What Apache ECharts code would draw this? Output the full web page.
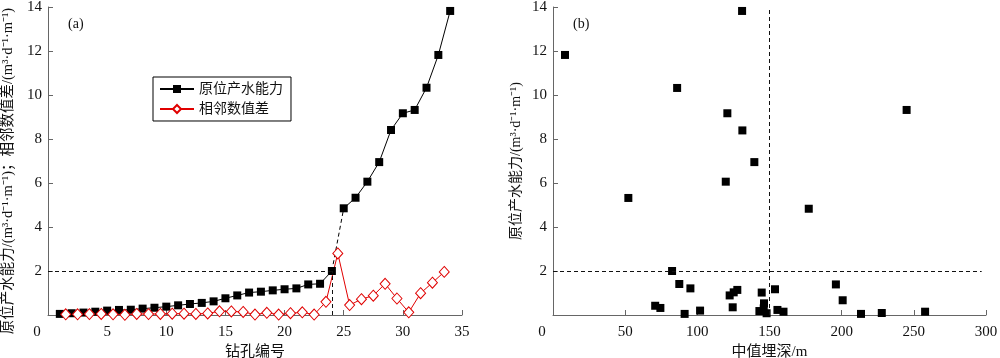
<!DOCTYPE html>
<html><head><meta charset="utf-8">
<script src="https://cdn.jsdelivr.net/npm/echarts@6/dist/echarts.min.js"></script>
<style>html,body{margin:0;padding:0;background:#fff}#c{width:1000px;height:358px}</style>
</head><body><div id="c"></div>
<script>
// ---- data ----
const boreholeIds = [1,2,3,4,5,6,7,8,9,10,11,12,13,14,15,16,17,18,19,20,21,22,23,24,25,26,27,28,29,30,31,32,33,34];
const capacity = [0.05,0.08,0.11,0.15,0.2,0.23,0.24,0.29,0.33,0.38,0.44,0.5,0.55,0.62,0.76,0.89,1.02,1.06,1.12,1.17,1.21,1.39,1.42,2.0,4.85,5.33,6.06,6.95,8.41,9.17,9.32,10.33,11.82,13.82];
const diffPos = [1.5,2.5,3.5,4.5,5.5,6.5,7.5,8.5,9.5,10.5,11.5,12.5,13.5,14.5,15.5,16.5,17.5,18.5,19.5,20.5,21.5,22.5,23.5,24.5,25.5,26.5,27.5,28.5,29.5,30.5,31.5,32.5,33.5];
const diffValues = [0.03,0.03,0.04,0.05,0.03,0.01,0.05,0.04,0.05,0.06,0.06,0.05,0.07,0.17,0.16,0.14,0.02,0.1,0.02,0.08,0.12,0.02,0.6,2.8,0.45,0.72,0.88,1.42,0.75,0.12,0.99,1.47,1.96];
const depth = [8.3,52.2,86,82.5,87.5,70.8,74.4,131,120.8,131.2,139.5,119.7,177.2,245,95.2,91.2,101.9,122.4,125.2,127.7,124.5,144.6,153.8,146.2,143,146,148,155.5,159.7,196,200.7,213.4,227.8,257.8];
const depthCapacity = [11.82,5.32,10.32,2.0,1.41,0.42,0.32,13.82,9.17,8.39,6.95,6.06,4.83,9.32,1.21,0.05,0.2,0.89,1.03,1.14,0.35,1.02,1.17,0.53,0.18,0.3,0.08,0.23,0.15,1.39,0.67,0.05,0.09,0.15];
const threshold = 2;
const breakId = 24;
const medianDepth = 149.5;
const leftXTicks = {min:0, max:35, interval:5};
const rightXTicks = {min:0, max:300, interval:50};
const yTicks = {min:0, max:14, interval:2};
const nameCap = '原位产水能力';
const nameDiff = '相邻数值差';
const unit = '/(m³·d⁻¹·m⁻¹)';

// ---- chart ----
const FF = "'Liberation Serif','Noto Sans CJK SC',serif";
const axisCol = '#666';
const chart = echarts.init(document.getElementById('c'));
const idx = boreholeIds.indexOf(breakId);
const seg1 = boreholeIds.slice(0, idx+1).map((x,i)=>[x, capacity[i]]);
const seg2 = boreholeIds.slice(idx+1).map((x,i)=>[x, capacity[idx+1+i]]);
const bridge = [[boreholeIds[idx], capacity[idx]], [boreholeIds[idx+1], capacity[idx+1]]];
const diffData = diffPos.map((x,i)=>[x, diffValues[i]]);
const scatter = depth.map((d,i)=>[d, depthCapacity[i]]);

function xAxis(gi, t, name){
  return {gridIndex:gi, type:'value', min:t.min, max:t.max, interval:t.interval,
    name:name, nameLocation:'middle', nameGap:27,
    nameTextStyle:{fontFamily:FF, fontSize:15, color:'#111'},
    axisLine:{lineStyle:{color:axisCol, width:1}},
    axisTick:{inside:true, length:5, lineStyle:{color:axisCol}},
    splitLine:{show:false},
    axisLabel:{fontFamily:FF, fontSize:15, color:'#111', margin:10,
      formatter: v => v===0 ? '{z|0}' : String(v),
      rich:{z:{fontFamily:FF, fontSize:15, color:'#111', padding:[0,22,0,0]}}}};
}
function yAxis(gi, name, gap, fs, pad){
  return {gridIndex:gi, type:'value', min:yTicks.min, max:yTicks.max, interval:yTicks.interval,
    name:name, nameLocation:'middle', nameGap:gap, nameRotate:90,
    nameTextStyle:{fontFamily:FF, fontSize:fs, color:'#111', padding:pad},
    axisLine:{show:true, lineStyle:{color:axisCol, width:1}},
    axisTick:{show:true, inside:true, length:5, lineStyle:{color:axisCol}},
    splitLine:{show:false},
    axisLabel:{fontFamily:FF, fontSize:15, color:'#111', margin:6,
      formatter: v => v===0 ? '' : String(v)}};
}
const dash = {type:[4,3], color:'#111', width:1};

chart.setOption({
  animation:false,
  grid:[{left:48, right:538, top:7, bottom:43, outerBoundsMode:'none', containLabel:false},
        {left:553, right:14, top:7, bottom:43, outerBoundsMode:'none', containLabel:false}],
  xAxis:[xAxis(0, leftXTicks, '钻孔编号'), xAxis(1, rightXTicks, '中值埋深/m')],
  yAxis:[yAxis(0, nameCap+unit+'；相邻数值差'+unit, 33, 14.5, [0,20,0,0]), yAxis(1, nameCap+unit, 30, 14, 0)],
  legend:{data:[nameCap, nameDiff], orient:'vertical', left:153, top:77,
    borderColor:'#000', borderWidth:1, padding:[5,8,5,6], itemGap:6,
    itemWidth:34, itemHeight:10,
    textStyle:{fontFamily:FF, fontSize:14, color:'#111'}},
  graphic:[
    {type:'text', left:68, top:17, style:{text:'(a)', font:"14px 'Liberation Serif'", fill:'#111'}},
    {type:'text', left:573, top:17, style:{text:'(b)', font:"14px 'Liberation Serif'", fill:'#111'}}
  ],
  series:[
    {name:nameCap, type:'line', xAxisIndex:0, yAxisIndex:0, data:seg1,
      symbol:'rect', symbolSize:8, itemStyle:{color:'#000'}, lineStyle:{color:'#000', width:1},
      markLine:{silent:true, symbol:'none', label:{show:false}, lineStyle:dash,
        data:[[{coord:[leftXTicks.min, threshold]},{coord:[breakId, threshold]}],
              [{coord:[breakId, yTicks.min]},{coord:[breakId, threshold]}]]}},
    {name:'bridge', type:'line', xAxisIndex:0, yAxisIndex:0, data:bridge, symbol:'none',
      lineStyle:{color:'#000', width:1, type:[4,3]}, z:1},
    {name:nameCap, type:'line', xAxisIndex:0, yAxisIndex:0, data:seg2,
      symbol:'rect', symbolSize:8, itemStyle:{color:'#000'}, lineStyle:{color:'#000', width:1}},
    {name:nameDiff, type:'line', xAxisIndex:0, yAxisIndex:0, data:diffData,
      symbol:'diamond', symbolSize:[10,11], showAllSymbol:true,
      itemStyle:{color:'#fff', borderColor:'#e00000', borderWidth:1},
      lineStyle:{color:'#e00000', width:1}, z:3},
    {name:'scatter', type:'scatter', xAxisIndex:1, yAxisIndex:1, data:scatter,
      symbol:'rect', symbolSize:8, itemStyle:{color:'#000', opacity:1},
      markLine:{silent:true, symbol:'none', label:{show:false}, lineStyle:dash,
        data:[[{coord:[rightXTicks.min, threshold]},{coord:[rightXTicks.max-3, threshold]}],
              [{coord:[medianDepth, yTicks.min]},{coord:[medianDepth, yTicks.max]}]]}}
  ]
});
</script></body></html>
